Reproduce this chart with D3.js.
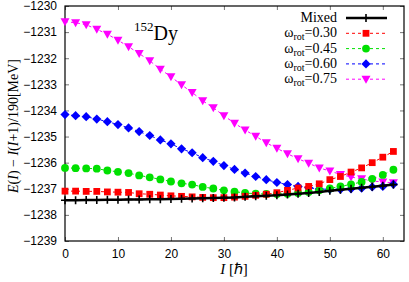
<!DOCTYPE html>
<html>
<head>
<meta charset="utf-8">
<script src="https://cdn.jsdelivr.net/npm/d3@7"></script>
<style>
  body { margin: 0; background: #fff; }
  svg { display: block; }
  .tick text { font-family: "Liberation Sans", Arial, sans-serif; font-size: 12px; fill: #000; }
</style>
</head>
<body>
<svg id="chart" width="409" height="282"></svg>
<script>
// spin I in hbar, step 2
const spins = d3.range(0, 63, 2);

const mixed = [-1237.44, -1237.44, -1237.43, -1237.43, -1237.42, -1237.42, -1237.41, -1237.41,
  -1237.40, -1237.40, -1237.39, -1237.38, -1237.37, -1237.36, -1237.35, -1237.34,
  -1237.33, -1237.31, -1237.29, -1237.27, -1237.25, -1237.22, -1237.19, -1237.16,
  -1237.12, -1237.08, -1237.04, -1237.00, -1236.96, -1236.92, -1236.88, -1236.84];

const w030 = [-1237.09, -1237.09, -1237.10, -1237.10, -1237.12, -1237.13, -1237.14, -1237.19,
  -1237.21, -1237.24, -1237.27, -1237.29, -1237.31, -1237.33, -1237.34, -1237.34,
  -1237.32, -1237.29, -1237.25, -1237.21, -1237.15, -1237.06, -1236.97, -1236.91,
  -1236.81, -1236.65, -1236.53, -1236.36, -1236.20, -1236.00, -1235.79, -1235.57];

const w045 = [-1236.20, -1236.21, -1236.22, -1236.23, -1236.30, -1236.35, -1236.40, -1236.49,
  -1236.56, -1236.64, -1236.72, -1236.79, -1236.84, -1236.93, -1236.99, -1237.06,
  -1237.11, -1237.16, -1237.19, -1237.20, -1237.20, -1237.19, -1237.16, -1237.12,
  -1237.06, -1236.99, -1236.91, -1236.83, -1236.74, -1236.62, -1236.47, -1236.27];

const w060 = [-1234.16, -1234.20, -1234.24, -1234.33, -1234.43, -1234.54, -1234.67, -1234.81,
  -1234.96, -1235.13, -1235.28, -1235.47, -1235.62, -1235.81, -1235.95, -1236.11,
  -1236.26, -1236.40, -1236.53, -1236.65, -1236.76, -1236.84, -1236.91, -1236.96,
  -1237.01, -1237.02, -1237.02, -1237.00, -1236.98, -1236.93, -1236.91, -1236.83];

const w075 = [-1230.60, -1230.64, -1230.72, -1230.89, -1231.08, -1231.31, -1231.56, -1231.82,
  -1232.10, -1232.42, -1232.71, -1233.02, -1233.31, -1233.63, -1233.90, -1234.20,
  -1234.49, -1234.75, -1234.99, -1235.24, -1235.45, -1235.66, -1235.85, -1236.02,
  -1236.20, -1236.32, -1236.45, -1236.55, -1236.62, -1236.70, -1236.74, -1236.77];

const omegaLabels = ["0.30", "0.45", "0.60", "0.75"];
const xTicks = [0, 10, 20, 30, 40, 50, 60];
const yTicks = d3.range(-1239, -1229, 1);

const series = [
  { name: "Mixed", values: mixed, color: "#000", symbol: "plus", dashed: false },
  { name: omegaLabels[0], values: w030, color: "#ff0000", symbol: "square", dashed: true },
  { name: omegaLabels[1], values: w045, color: "#00e000", symbol: "circle", dashed: true },
  { name: omegaLabels[2], values: w060, color: "#0000ff", symbol: "diamond", dashed: true },
  { name: omegaLabels[3], values: w075, color: "#ff00ff", symbol: "triangle", dashed: true }
];

const svg = d3.select("#chart"),
  margin = { top: 6, right: 5, bottom: 41, left: 65 },
  width = 409 - margin.left - margin.right,
  height = 282 - margin.top - margin.bottom,
  g = svg.append("g").attr("transform", "translate(" + margin.left + "," + margin.top + ")");

const x = d3.scaleLinear().domain([0, 64]).range([0, width]);
const y = d3.scaleLinear().domain([-1239, -1230]).range([height, 0]);

// axes with inward ticks, mirrored on top and right
g.append("g")
  .attr("transform", "translate(0," + height + ")")
  .call(d3.axisBottom(x).tickValues(xTicks).tickSizeInner(-4).tickSizeOuter(0).tickPadding(8));
g.append("g")
  .call(d3.axisTop(x).tickValues(xTicks).tickSizeInner(-4).tickSizeOuter(0).tickFormat(""));
g.append("g")
  .call(d3.axisLeft(y).tickValues(yTicks).tickSizeInner(-4).tickSizeOuter(0).tickPadding(8).tickFormat(d3.format("d")));
g.append("g")
  .attr("transform", "translate(" + width + ",0)")
  .call(d3.axisRight(y).tickValues(yTicks).tickSizeInner(-4).tickSizeOuter(0).tickFormat(""));
g.selectAll(".domain").remove();
g.selectAll(".tick line").attr("stroke", "#777");

g.append("rect")
  .attr("width", width).attr("height", height)
  .attr("fill", "none").attr("stroke", "#000").attr("stroke-width", 1.2);

function symbolPath(kind) {
  if (kind === "square") return d3.symbol(d3.symbolSquare, 46)();
  if (kind === "circle") return d3.symbol(d3.symbolCircle, 48)();
  if (kind === "diamond") return "M0,-4.6L4.6,0L0,4.6L-4.6,0Z";
  if (kind === "triangle") return "M-4.5,-3.5L4.5,-3.5L0,4.5Z";
  return "M-4,0H4M0,-4V4";
}

const line = d3.line()
  .x(function (d) { return x(d[0]); })
  .y(function (d) { return y(d[1]); });

// draw omega series first, mixed on top
const order = [4, 3, 2, 1, 0];
order.forEach(function (i) {
  const s = series[i];
  const pts = spins.map(function (I, k) { return [I, s.values[k]]; });
  g.append("path")
    .datum(pts)
    .attr("d", line)
    .attr("fill", "none")
    .attr("stroke", s.color)
    .attr("stroke-width", s.dashed ? 1 : 2.5)
    .attr("stroke-dasharray", s.dashed ? "3,3" : null);
  g.selectAll(".pt" + i)
    .data(pts)
    .enter().append("path")
    .attr("transform", function (d) { return "translate(" + x(d[0]) + "," + y(d[1]) + ")"; })
    .attr("d", symbolPath(s.symbol))
    .attr("fill", s.symbol === "plus" ? "none" : s.color)
    .attr("stroke", s.color)
    .attr("stroke-width", s.symbol === "plus" ? 1.6 : 0);
});

// legend
const legend = svg.append("g").attr("transform", "translate(337,0)");
series.forEach(function (s, i) {
  const yy = 18 + i * 15.3;
  const t = legend.append("text")
    .attr("x", 0).attr("y", yy + 4)
    .attr("text-anchor", "end")
    .attr("font-family", "'Liberation Serif', 'Times New Roman', serif")
    .attr("font-size", "14px");
  if (i === 0) {
    t.text("Mixed");
  } else {
    t.append("tspan").text("ω");
    t.append("tspan").attr("font-size", "10px").attr("dy", 3).text("rot");
    t.append("tspan").attr("dy", -3).text("=" + s.name);
  }
  legend.append("line")
    .attr("x1", 9).attr("x2", 50).attr("y1", yy).attr("y2", yy)
    .attr("stroke", s.color)
    .attr("stroke-width", s.dashed ? 1 : 2.5)
    .attr("stroke-dasharray", s.dashed ? "3,3" : null);
  legend.append("path")
    .attr("transform", "translate(29," + yy + ")")
    .attr("d", symbolPath(s.symbol))
    .attr("fill", s.symbol === "plus" ? "none" : s.color)
    .attr("stroke", s.color)
    .attr("stroke-width", s.symbol === "plus" ? 1.6 : 0);
});

// nucleus label
const nuc = svg.append("text")
  .attr("x", 134).attr("y", 40)
  .attr("font-family", "'Liberation Serif', 'Times New Roman', serif")
  .attr("font-size", "20px");
nuc.append("tspan").attr("font-size", "13px").attr("dy", -9).text("152");
nuc.append("tspan").attr("dy", 9).text("Dy");

// x axis label
const xl = svg.append("text")
  .attr("x", 234).attr("y", 274)
  .attr("text-anchor", "middle")
  .attr("font-family", "'Liberation Serif', 'Times New Roman', serif")
  .attr("font-size", "15px");
xl.append("tspan").attr("font-style", "italic").text("I");
xl.append("tspan").text(" [ℏ]");

// y axis label
const yl = svg.append("text")
  .attr("transform", "translate(18,126) rotate(-90)")
  .attr("text-anchor", "middle")
  .attr("font-family", "'Liberation Serif', 'Times New Roman', serif")
  .attr("font-size", "14px");
yl.append("tspan").attr("font-style", "italic").text("E");
yl.append("tspan").text("(");
yl.append("tspan").attr("font-style", "italic").text("I");
yl.append("tspan").text(") − ");
yl.append("tspan").attr("font-style", "italic").text("I");
yl.append("tspan").text("(");
yl.append("tspan").attr("font-style", "italic").text("I");
yl.append("tspan").text("+1)/190[MeV]");
</script>
</body>
</html>
